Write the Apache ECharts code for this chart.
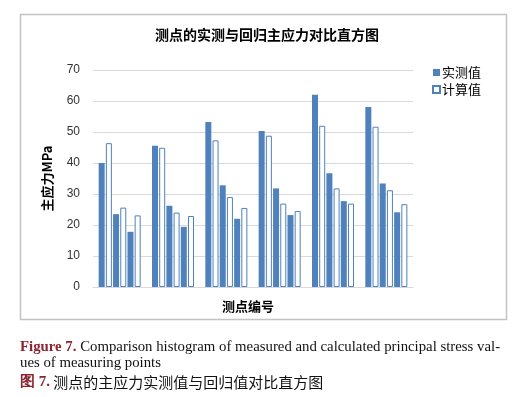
<!DOCTYPE html>
<html>
<head>
<meta charset="utf-8">
<script src="https://cdn.jsdelivr.net/npm/echarts@6/dist/echarts.min.js"></script>
<style>html,body{margin:0;padding:0;background:#fff;}#c{width:526px;height:397px;}</style>
</head>
<body>
<div id="c"></div>
<script>
// Data
const groups = ['1', '2', '3', '4', '5', '6'];
const measuredA = [40.0, 45.6, 53.2, 50.3, 62.0, 58.1];
const calcA     = [46.4, 44.9, 47.3, 48.8, 52.0, 51.7];
const measuredB = [23.5, 26.2, 32.8, 31.8, 36.7, 33.4];
const calcB     = [25.6, 24.0, 29.0, 26.9, 31.8, 31.2];
const measuredC = [17.8, 19.4, 22.0, 23.2, 27.7, 24.1];
const calcC     = [23.1, 22.9, 25.5, 24.5, 26.9, 26.7];
const seriesNames = ['实测值', '计算值'];
const yTicks = [0, 10, 20, 30, 40, 50, 60, 70];

const BLUE = '#4F81BD';
const RED = '#8B2331';
const CJK = '"Noto Sans CJK SC", "Noto Sans", sans-serif';
const SANS = '"Liberation Sans", "Noto Sans", sans-serif';
const SERIF = '"Liberation Serif", "DejaVu Serif", serif';

function measured(data) {
  return { name: seriesNames[0], type: 'bar', data: data, barWidth: 6, barGap: '20%',
    itemStyle: { color: BLUE }, emphasis: { disabled: true } };
}
function calc(data) {
  return { name: seriesNames[1], type: 'bar', data: data, barWidth: 6, barGap: '20%',
    itemStyle: { color: '#ffffff', borderColor: BLUE, borderWidth: 1 }, emphasis: { disabled: true } };
}

const chart = echarts.init(document.getElementById('c'), null, { renderer: 'canvas' });
chart.setOption({
  backgroundColor: '#ffffff',
  animation: false,
  title: {
    text: '测点的实测与回归主应力对比直方图',
    left: 262, top: 23, textAlign: 'center',
    textStyle: { fontFamily: CJK, fontSize: 14, fontWeight: 'bold', color: '#000' }
  },
  legend: {
    data: seriesNames,
    orient: 'vertical',
    left: 432, top: 66, padding: 0,
    itemWidth: 7, itemHeight: 7, itemGap: 4,
    icon: 'rect',
    textStyle: { fontFamily: CJK, fontSize: 13, color: '#000', padding: [0, 0, 0, -3] }
  },
  grid: { left: 93, right: 113, top: 70, bottom: 110, containLabel: false },
  xAxis: {
    type: 'category',
    data: groups,
    name: '测点编号',
    nameLocation: 'middle',
    nameGap: 13,
    nameTextStyle: { fontFamily: CJK, fontSize: 13, fontWeight: 'bold', color: '#000', padding: [0, 10, 0, 0] },
    axisLine: { lineStyle: { color: '#d9d9d9', width: 1 } },
    axisTick: { show: false },
    axisLabel: { show: false }
  },
  yAxis: {
    type: 'value',
    min: yTicks[0], max: yTicks[yTicks.length - 1], interval: 10,
    name: '主应力MPa',
    nameLocation: 'middle',
    nameRotate: 90,
    nameGap: 39,
    nameTextStyle: { fontFamily: CJK, fontSize: 13, fontWeight: 'bold', color: '#000' },
    axisLine: { show: false },
    axisTick: { show: false },
    axisLabel: { fontFamily: SANS, fontSize: 12, color: '#333', margin: 13 },
    splitLine: { lineStyle: { color: '#d9d9d9', width: 1 } }
  },
  series: [measured(measuredA), calc(calcA), measured(measuredB), calc(calcB), measured(measuredC), calc(calcC)],
  graphic: [
    { type: 'rect', shape: { x: 20.5, y: 14.5, width: 486, height: 305 }, silent: true, z: -1,
      style: { fill: 'none', stroke: '#c3c3c3', lineWidth: 1.5 } },
    { type: 'text', left: 20, top: 340,
      style: { text: '{r|Figure 7.} Comparison histogram of measured and calculated principal stress val-',
        font: '14.8px ' + SERIF, fill: '#111',
        rich: { r: { fontFamily: SERIF, fontSize: 14.8, fontWeight: 'bold', fill: RED, color: RED } } } },
    { type: 'text', left: 20, top: 356,
      style: { text: 'ues of measuring points', font: '14.8px ' + SERIF, fill: '#111' } },
    { type: 'text', left: 20, top: 375,
      style: { text: '{r|图 7.} 测点的主应力实测值与回归值对比直方图', font: '15px ' + CJK, fill: '#111',
        rich: { r: { fontFamily: SERIF, fontSize: 15, fontWeight: 'bold', fill: RED, color: RED } } } }
  ]
});
</script>
</body>
</html>
